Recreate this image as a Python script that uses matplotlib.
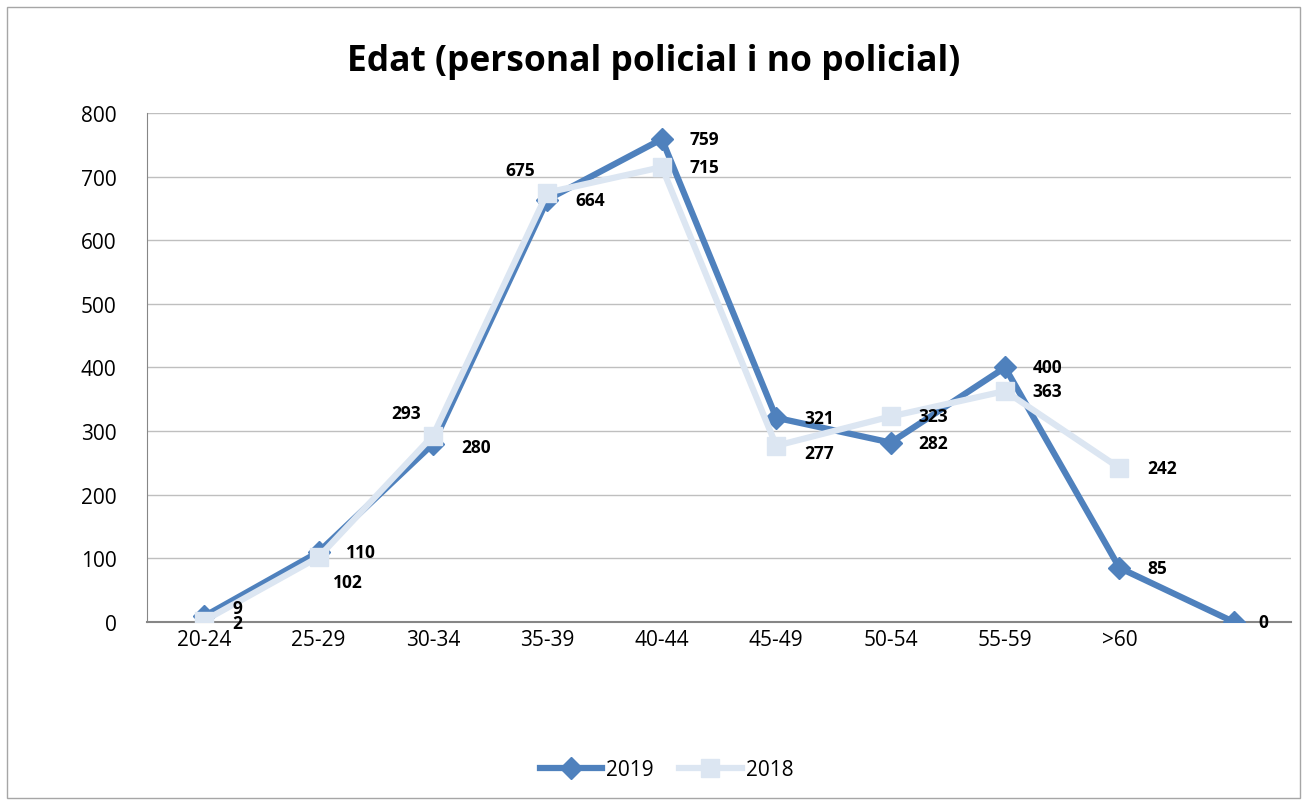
import matplotlib
matplotlib.use('Agg')
import matplotlib.pyplot as plt
from matplotlib.patches import Rectangle

categories = ['20-24', '25-29', '30-34', '35-39', '40-44', '45-49', '50-54', '55-59', '>60', '']
vals_2019 = [9, 110, 280, 664, 759, 321, 282, 400, 85, 0]
vals_2018 = [2, 102, 293, 675, 715, 277, 323, 363, 242]

# label offsets in points (dx, dy) per point
off_2019 = [(20, 6), (20, 0), (20, -2), (20, 0), (20, 0), (20, 0), (20, 0), (20, 0), (20, 0), (18, 0)]
off_2018 = [(20, -2), (10, -18), (-30, 16), (-30, 16), (20, 0), (20, -5), (20, 0), (20, 0), (20, 0)]

c19 = '#4F81BD'
c18 = '#DCE6F2'

plt.rcParams['font.family'] = ['Open Sans', 'DejaVu Sans']

fig = plt.figure(figsize=(13.07, 8.03), dpi=100)
fig.patches.append(Rectangle((0.005, 0.005), 0.99, 0.985, transform=fig.transFigure,
                             fill=False, edgecolor='#A6A6A6', linewidth=1))
ax = fig.add_axes([0.1125, 0.2242, 0.8753, 0.6338])

x = list(range(len(categories)))
ax.plot(x, vals_2019, color=c19, linewidth=4.5, marker='D', markersize=11,
        label='2019', zorder=3)
ax.plot(x[:len(vals_2018)], vals_2018, color=c18, linewidth=4.5, marker='s',
        markersize=13, label='2018', zorder=4)

for i, v in enumerate(vals_2019):
    ax.annotate(str(v), (x[i], v), xytext=off_2019[i], textcoords='offset points',
                ha='left', va='center', fontsize=12.5, fontweight='bold', zorder=5)
for i, v in enumerate(vals_2018):
    ax.annotate(str(v), (x[i], v), xytext=off_2018[i], textcoords='offset points',
                ha='left', va='center', fontsize=12.5, fontweight='bold', zorder=5)

ax.set_xlim(-0.5, len(categories) - 0.5)
ax.set_ylim(0, 800)
ax.set_yticks(range(0, 801, 100))
ax.set_xticks(x)
ax.set_xticklabels(categories)
ax.tick_params(axis='both', labelsize=15, length=0, pad=5)
ax.tick_params(axis='y', pad=22)
ax.grid(axis='y', color='#BFBFBF', linewidth=1)
ax.set_axisbelow(True)
for s in ['top', 'right']:
    ax.spines[s].set_visible(False)
ax.spines['left'].set_color('#868686')
ax.spines['bottom'].set_color('#868686')
ax.spines['bottom'].set_linewidth(1.5)

fig.suptitle('Edat (personal policial i no policial)', fontsize=25.5, fontweight='bold', y=0.945)
fig.legend(loc='center', bbox_to_anchor=(0.51, 0.04), ncol=2, frameon=False,
           fontsize=15, handlelength=3, columnspacing=1.2, handletextpad=0.2)

fig.savefig('out.png', dpi=100)
